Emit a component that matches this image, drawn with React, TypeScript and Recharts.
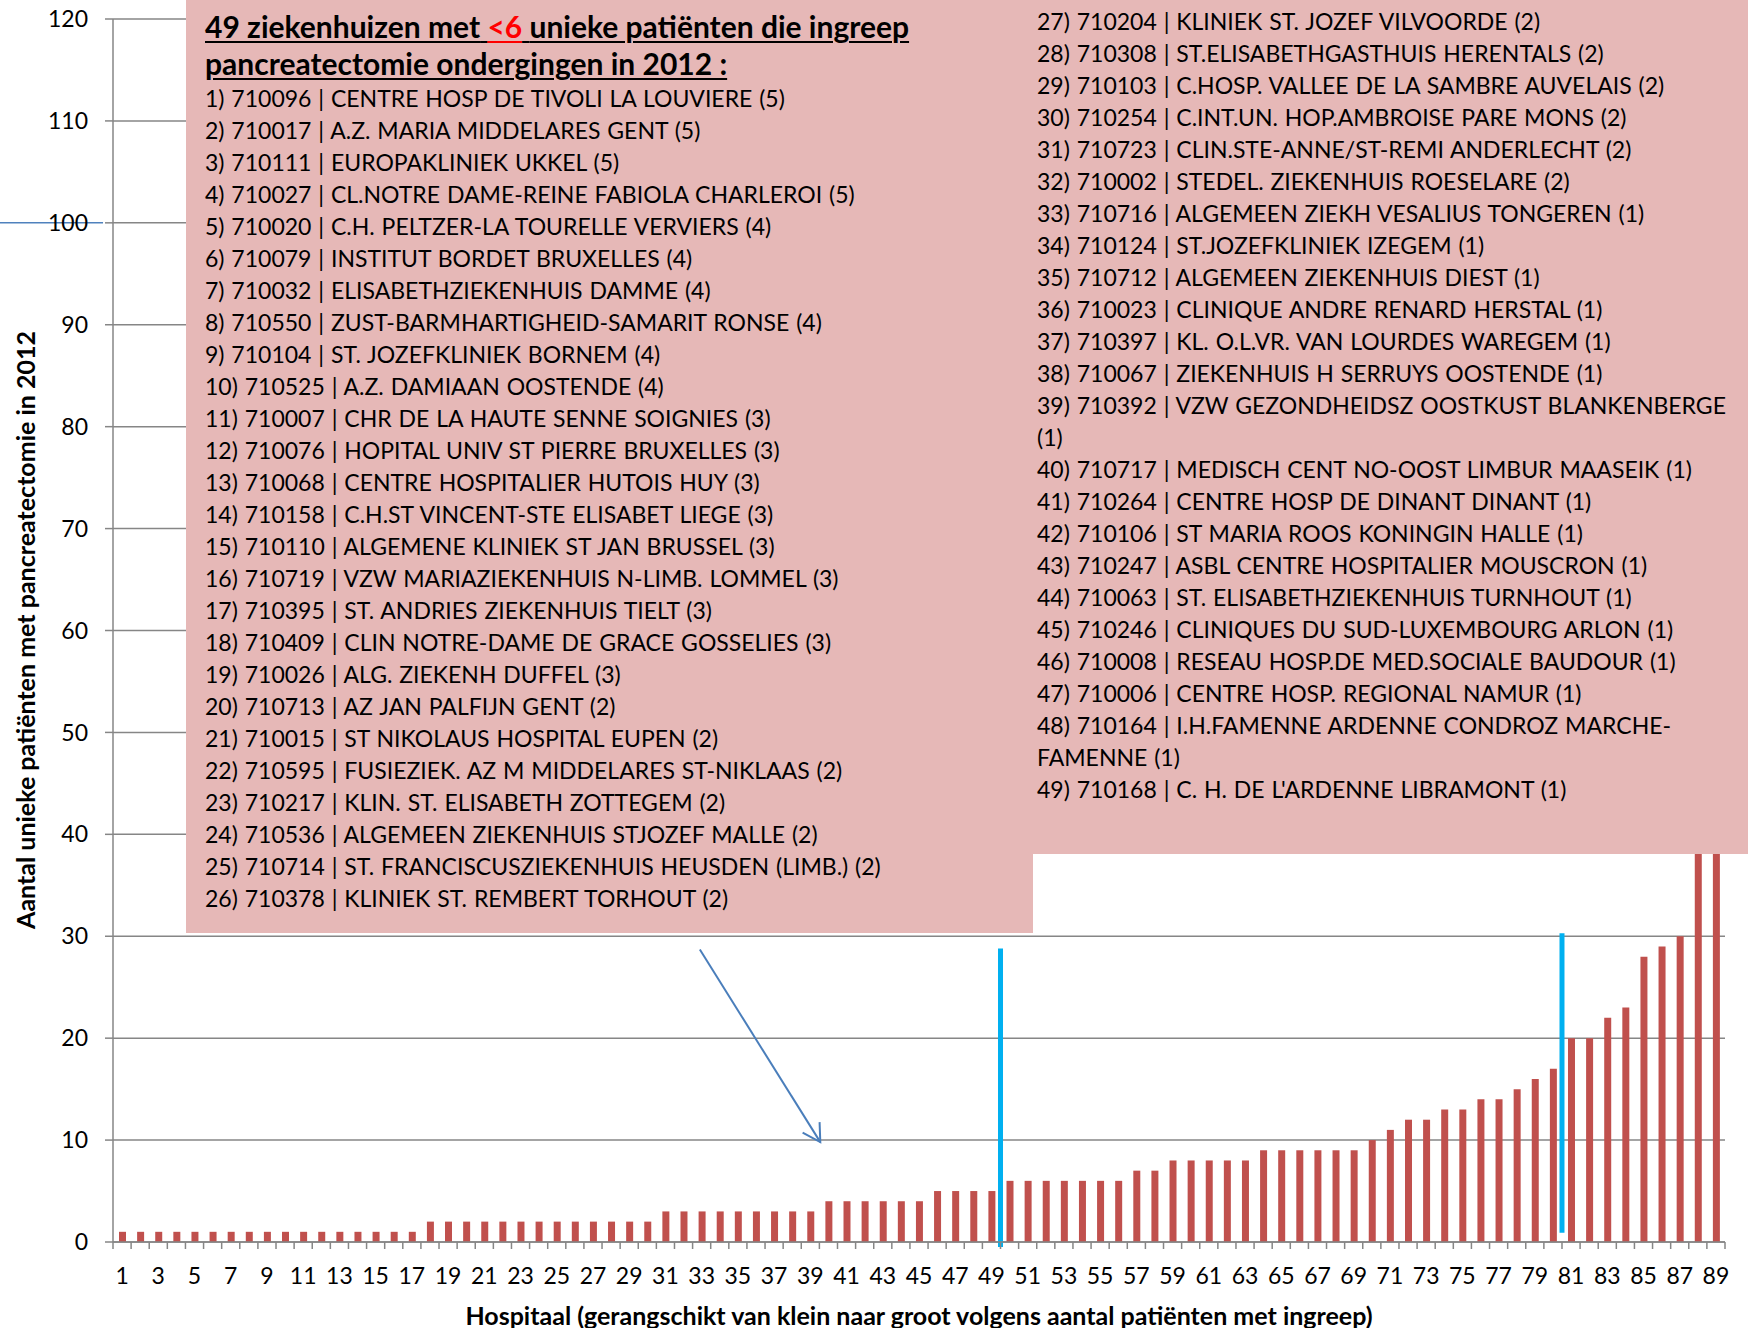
import React from "react";
import { BarChart, Bar, XAxis, YAxis, CartesianGrid, ReferenceLine } from "recharts";

// hospital rank (1 = fewest patients) and unique pancreatectomy patients in 2012
const ranks = [
  1, 2, 3, 4, 5, 6, 7, 8, 9, 10, 11, 12, 13, 14, 15, 16, 17, 18, 19, 20,
  21, 22, 23, 24, 25, 26, 27, 28, 29, 30, 31, 32, 33, 34, 35, 36, 37, 38, 39, 40,
  41, 42, 43, 44, 45, 46, 47, 48, 49, 50, 51, 52, 53, 54, 55, 56, 57, 58, 59, 60,
  61, 62, 63, 64, 65, 66, 67, 68, 69, 70, 71, 72, 73, 74, 75, 76, 77, 78, 79, 80,
  81, 82, 83, 84, 85, 86, 87, 88, 89,
];
const patients = [
  1, 1, 1, 1, 1, 1, 1, 1, 1, 1, 1, 1, 1, 1, 1, 1, 1, 2, 2, 2,
  2, 2, 2, 2, 2, 2, 2, 2, 2, 2, 3, 3, 3, 3, 3, 3, 3, 3, 3, 4,
  4, 4, 4, 4, 4, 5, 5, 5, 5, 6, 6, 6, 6, 6, 6, 6, 7, 7, 8, 8,
  8, 8, 8, 9, 9, 9, 9, 9, 9, 10, 11, 12, 12, 13, 13, 14, 14, 15, 16, 17,
  20, 20, 22, 23, 28, 29, 30, 45, 62,
];
const yTicks = [0, 10, 20, 30, 40, 50, 60, 70, 80, 90, 100, 110, 120];

const leftList = [
  "1) 710096 | CENTRE HOSP DE TIVOLI LA LOUVIERE (5)",
  "2) 710017 | A.Z. MARIA MIDDELARES GENT (5)",
  "3) 710111 | EUROPAKLINIEK UKKEL (5)",
  "4) 710027 | CL.NOTRE DAME-REINE FABIOLA CHARLEROI (5)",
  "5) 710020 | C.H. PELTZER-LA TOURELLE VERVIERS (4)",
  "6) 710079 | INSTITUT BORDET BRUXELLES (4)",
  "7) 710032 | ELISABETHZIEKENHUIS DAMME (4)",
  "8) 710550 | ZUST-BARMHARTIGHEID-SAMARIT RONSE (4)",
  "9) 710104 | ST. JOZEFKLINIEK BORNEM (4)",
  "10) 710525 | A.Z. DAMIAAN OOSTENDE (4)",
  "11) 710007 | CHR DE LA HAUTE SENNE SOIGNIES (3)",
  "12) 710076 | HOPITAL UNIV ST PIERRE BRUXELLES (3)",
  "13) 710068 | CENTRE HOSPITALIER HUTOIS HUY (3)",
  "14) 710158 | C.H.ST VINCENT-STE ELISABET LIEGE (3)",
  "15) 710110 | ALGEMENE KLINIEK ST JAN BRUSSEL (3)",
  "16) 710719 | VZW MARIAZIEKENHUIS N-LIMB. LOMMEL (3)",
  "17) 710395 | ST. ANDRIES ZIEKENHUIS TIELT (3)",
  "18) 710409 | CLIN NOTRE-DAME DE GRACE GOSSELIES (3)",
  "19) 710026 | ALG. ZIEKENH DUFFEL (3)",
  "20) 710713 | AZ JAN PALFIJN GENT (2)",
  "21) 710015 | ST NIKOLAUS HOSPITAL EUPEN (2)",
  "22) 710595 | FUSIEZIEK. AZ M MIDDELARES ST-NIKLAAS (2)",
  "23) 710217 | KLIN. ST. ELISABETH ZOTTEGEM (2)",
  "24) 710536 | ALGEMEEN ZIEKENHUIS STJOZEF MALLE (2)",
  "25) 710714 | ST. FRANCISCUSZIEKENHUIS HEUSDEN (LIMB.) (2)",
  "26) 710378 | KLINIEK ST. REMBERT TORHOUT (2)",
];
const rightList = [
  "27) 710204 | KLINIEK ST. JOZEF VILVOORDE (2)",
  "28) 710308 | ST.ELISABETHGASTHUIS HERENTALS (2)",
  "29) 710103 | C.HOSP. VALLEE DE LA SAMBRE AUVELAIS (2)",
  "30) 710254 | C.INT.UN. HOP.AMBROISE PARE MONS (2)",
  "31) 710723 | CLIN.STE-ANNE/ST-REMI ANDERLECHT (2)",
  "32) 710002 | STEDEL. ZIEKENHUIS ROESELARE (2)",
  "33) 710716 | ALGEMEEN ZIEKH VESALIUS TONGEREN (1)",
  "34) 710124 | ST.JOZEFKLINIEK IZEGEM (1)",
  "35) 710712 | ALGEMEEN ZIEKENHUIS DIEST (1)",
  "36) 710023 | CLINIQUE ANDRE RENARD HERSTAL (1)",
  "37) 710397 | KL. O.L.VR. VAN LOURDES WAREGEM (1)",
  "38) 710067 | ZIEKENHUIS H SERRUYS OOSTENDE (1)",
  "39) 710392 | VZW GEZONDHEIDSZ OOSTKUST BLANKENBERGE",
  "(1)",
  "40) 710717 | MEDISCH CENT NO-OOST LIMBUR MAASEIK (1)",
  "41) 710264 | CENTRE HOSP DE DINANT DINANT (1)",
  "42) 710106 | ST MARIA ROOS KONINGIN HALLE (1)",
  "43) 710247 | ASBL CENTRE HOSPITALIER MOUSCRON (1)",
  "44) 710063 | ST. ELISABETHZIEKENHUIS TURNHOUT (1)",
  "45) 710246 | CLINIQUES DU SUD-LUXEMBOURG ARLON (1)",
  "46) 710008 | RESEAU HOSP.DE MED.SOCIALE BAUDOUR (1)",
  "47) 710006 | CENTRE HOSP. REGIONAL NAMUR (1)",
  "48) 710164 | I.H.FAMENNE ARDENNE CONDROZ MARCHE-",
  "FAMENNE (1)",
  "49) 710168 | C. H. DE L'ARDENNE LIBRAMONT (1)",
];

// annotation positions in data units (x on the rank scale, 0 = left edge)
const cutSmall = 49;
const cutLarge = 80;
const arrowFrom = { x: 32.4, y: 28.7 };
const arrowTo = { x: 39.05, y: 9.8 };

const W = 1748;
const H = 1328;
const MARGIN = { top: 19, right: 23, bottom: 36, left: 0 };
const Y_AXIS_W = 113;
const BAND = (W - MARGIN.left - MARGIN.right - Y_AXIS_W) / ranks.length;
const FONT = "Lato, 'Open Sans', sans-serif";
const GRID = "#868686";
const PINK = "#E6B8B7";

const data = ranks.map((r, i) => ({ rank: r, patients: patients[i] }));

const RankTick = (props: any) => {
  const { x, y, payload, index } = props;
  const half = BAND / 2;
  return (
    <g>
      <line x1={x - half} x2={x - half} y1={y - 7} y2={y} stroke={GRID} strokeWidth={1.5} />
      {index === ranks.length - 1 && (
        <line x1={x + half} x2={x + half} y1={y - 7} y2={y} stroke={GRID} strokeWidth={1.5} />
      )}
      {index % 2 === 0 && (
        <text x={x} y={y + 35} textAnchor="middle" fill="#000" fontSize={23} fontFamily={FONT}>
          {payload.value}
        </text>
      )}
    </g>
  );
};

const Arrow = (p: any) => {
  const { x1, y1, x2, y2 } = p;
  const ang = Math.atan2(y1 - y2, x1 - x2);
  const len = 20;
  const s = Math.PI / 6;
  const a = `${x2 + len * Math.cos(ang + s)},${y2 + len * Math.sin(ang + s)}`;
  const b = `${x2 + len * Math.cos(ang - s)},${y2 + len * Math.sin(ang - s)}`;
  return (
    <g>
      <line x1={x1} y1={y1} x2={x2} y2={y2} stroke="#4A7EBB" strokeWidth={2} />
      <polyline points={`${a} ${x2},${y2} ${b}`} fill="none" stroke="#4A7EBB" strokeWidth={2} />
    </g>
  );
};

const lineStyle: React.CSSProperties = {
  height: 32,
  lineHeight: "32px",
  fontSize: 23,
  whiteSpace: "nowrap",
  wordSpacing: 1,
  color: "#000",
};

const titleLine: React.CSSProperties = {
  height: 37,
  lineHeight: "37px",
  textDecoration: "underline",
  textDecorationThickness: 2,
  textUnderlineOffset: 3,
};

export default function App() {
  return (
    <div style={{ position: "absolute", left: 0, top: 0, width: W, height: H, background: "#fff", fontFamily: FONT }}>
      <BarChart width={W} height={H} data={data} margin={MARGIN}>
        <CartesianGrid vertical={false} stroke={GRID} strokeWidth={1.5} />
        <XAxis
          dataKey="rank"
          interval={0}
          height={50}
          tickSize={7}
          tickMargin={0}
          tickLine={false}
          axisLine={{ stroke: GRID, strokeWidth: 1.5 }}
          tick={<RankTick />}
        />
        <XAxis xAxisId="num" dataKey="rank" type="number" domain={[0, 89]} allowDataOverflow hide />
        <YAxis
          width={Y_AXIS_W}
          domain={[0, 120]}
          ticks={yTicks}
          interval={0}
          tickSize={8}
          tickMargin={17}
          axisLine={{ stroke: GRID, strokeWidth: 1.5 }}
          tickLine={{ stroke: GRID, strokeWidth: 1.5 }}
          tick={{ fill: "#000", fontSize: 23, fontFamily: FONT }}
        />
        <Bar dataKey="patients" fill="#C0504D" barSize={7} isAnimationActive={false} />
        <ReferenceLine
          xAxisId="num"
          segment={[{ x: -6.3, y: 100 }, { x: -0.55, y: 100 }]}
          stroke="#4F81BD"
          strokeWidth={1.5}
          ifOverflow="visible"
        />
        <ReferenceLine
          xAxisId="num"
          segment={[{ x: cutSmall, y: -0.5 }, { x: cutSmall, y: 28.8 }]}
          stroke="#00B0F0"
          strokeWidth={5}
          ifOverflow="visible"
        />
        <ReferenceLine
          xAxisId="num"
          segment={[{ x: cutLarge, y: 0.9 }, { x: cutLarge, y: 30.3 }]}
          stroke="#00B0F0"
          strokeWidth={5}
          ifOverflow="visible"
        />
        <ReferenceLine
          xAxisId="num"
          segment={[arrowFrom, arrowTo]}
          ifOverflow="visible"
          shape={Arrow}
        />
      </BarChart>

      {/* list of the 49 small hospitals, split over two pink text boxes */}
      <div style={{ position: "absolute", left: 186, top: 0, width: 847, height: 933, background: PINK, paddingLeft: 19, paddingTop: 8, boxSizing: "border-box" }}>
        <div style={{ fontWeight: 700, fontSize: 30, whiteSpace: "nowrap" }}>
          <div style={titleLine}>
            49 ziekenhuizen met{" "}
            <span style={{ ...titleLine, color: "#FF0000", textDecorationColor: "#FF0000" }}>&lt;6</span>{" "}
            unieke patiënten die ingreep
          </div>
          <div style={titleLine}>pancreatectomie ondergingen in 2012 :</div>
        </div>
        {leftList.map((t) => (
          <div key={t} style={lineStyle}>{t}</div>
        ))}
      </div>
      <div style={{ position: "absolute", left: 1033, top: 0, width: W - 1033, height: 854, background: PINK, paddingLeft: 4, paddingTop: 5, boxSizing: "border-box" }}>
        {rightList.map((t) => (
          <div key={t} style={lineStyle}>{t}</div>
        ))}
      </div>

      <div style={{ position: "absolute", left: 24.5, top: 630, transform: "translate(-50%, -50%) rotate(-90deg)", fontWeight: 700, fontSize: 25, whiteSpace: "nowrap" }}>
        Aantal unieke patiënten met pancreatectomie in 2012
      </div>
      <div style={{ position: "absolute", left: 919, top: 1315, transform: "translate(-50%, -50%)", fontWeight: 700, fontSize: 25, whiteSpace: "nowrap" }}>
        Hospitaal (gerangschikt van klein naar groot volgens aantal patiënten met ingreep)
      </div>
    </div>
  );
}
